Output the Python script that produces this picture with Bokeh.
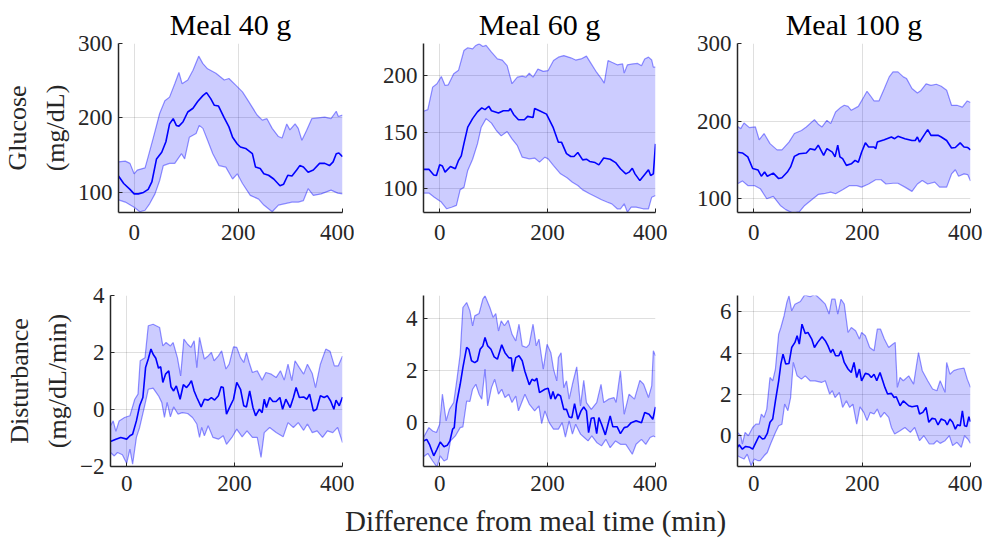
from bokeh.plotting import figure
from bokeh.layouts import row, column
from bokeh.models import Range1d, FixedTicker, Label
from bokeh.embed import file_html
from bokeh.resources import INLINE

# ---------------- data ----------------
meal_titles = ["Meal 40 g", "Meal 60 g", "Meal 100 g"]
row_labels = ["Glucose\n(mg/dL)", "Disturbance\n(mg/dL/min)"]
x_label = "Difference from meal time (min)"
x_ticks = [0, 200, 400]

# Glucose, meal 40 g
g40_mean_t = [-30,-20,-8,0,8,18,27,34,43,53,61,68,75,81,86,94,103,113,122,132,139,147,154,162,173,182,189,198,204,214,227,233,242,249,258,268,280,287,295,303,312,318,325,334,344,356,366,375,382,388,393,400]
g40_mean = [122,112,104,98,98,100,104,114,145,154,168,192,199,190,189,195,208,213,222,230,234,226,217,216,200,188,174,165,161,159,152,134,132,125,123,118,109,111,123,122,130,136,134,127,130,139,139,136,141,152,153,148]
g40_up_t = [-30,-17,-8,0,6,21,27,37,49,59,68,78,86,92,103,113,124,132,141,157,173,182,195,208,220,236,246,255,265,277,284,293,299,309,315,322,331,341,353,366,378,388,392,400]
g40_up = [141,142,139,125,130,133,148,174,206,223,228,246,261,246,251,264,283,273,266,260,251,253,244,235,222,204,197,199,186,175,173,192,184,192,186,170,183,199,200,201,199,209,202,204]
g40_lo_t = [-30,-17,0,11,21,30,40,49,56,68,78,91,97,106,119,125,132,141,151,163,176,189,198,208,223,239,249,265,277,290,303,315,325,334,344,359,378,391,400]
g40_lo = [90,87,80,74,76,85,98,116,136,139,139,152,145,174,179,190,186,170,152,136,134,118,125,112,96,91,83,74,83,85,87,87,89,105,96,98,103,99,98]

# Glucose, meal 60 g
g60_mean_t = [-30,-20,-11,-6,0,5,10,20,29,35,40,45,52,61,70,78,84,91,96,109,118,128,131,137,146,157,163,173,176,185,198,210,220,226,235,243,249,256,265,272,278,288,295,304,316,326,335,345,351,357,362,371,380,387,391,396,400]
g60_mean = [117,117,112,111.5,121,120,114.5,119.5,117.5,125,129,140,154.5,162,168,171.6,170,173,169,167,169,169,171,165.7,161,161,164,163,171,169,166,154.5,141,141,131,128.4,128.4,132,125.4,126,124,123,121,127,126,123,117.5,113,114.5,118,113,107,112.4,116.6,111.5,113,139.6]
g60_up_t = [-30,-22,-13,-5,3,10,16,26,35,45,52,61,67,73,80,86,96,107,116,125,134,144,153,160,166,173,182,192,201,211,220,230,243,252,262,272,281,291,300,305,312,319,329,339,342,348,358,367,374,380,387,393,396,400]
g60_up = [168.6,170,190,193,199.4,191.4,192,201.8,205,222.5,224.9,224,227,228.4,226,227,221,215,214,209,193,198.8,199.7,198.8,202.4,198.8,206,204,204.7,213.6,216.6,218,216,214,215,217.5,210.6,203,197.3,193.5,213.6,212,209.8,210.6,202.4,209.8,210.6,211,209,215,216.6,214,207.7,207.7]
g60_lo_t = [-30,-20,-10,3,13,22,31,38,45,52,61,70,77,86,96,105,114,125,134,144,153,166,176,185,195,201,211,224,236,246,256,265,278,291,300,310,319,329,335,342,348,355,364,377,387,393,400]
g60_lo = [95.9,96,92.3,88,82,83.4,85,99,101,116,126,139.6,154.4,162,158,151.5,146.7,150.6,144,138,127.8,126.3,127,123.4,127.8,126.3,120.4,113,109.5,105.6,102.7,98.8,95.3,92.3,90,88,86.4,82,82,86.4,79,83.4,83.4,82,82,92.3,93.8]

# Glucose, meal 100 g
g100_mean_t = [-30,-21,-11,-2,8,14,20,25,36,46,52,62,68,75,84,97,104,113,119,129,135,145,150,155,159,164,171,180,187,193,199,206,212,222,225,228,241,254,260,266,279,292,298,302,306,314,321,327,340,346,356,365,372,381,388,395,400]
g100_mean = [160,159,154,139,137,129,134.4,129,133,126,127,134.4,141,154.6,158,159,164.5,163,169,156,164.5,160,154,169,154,151.6,143,145,149.5,147,160,172,166.7,166.7,164.5,173,176,179.6,177.4,180.4,177.4,175,175,179.6,173,181.7,189,181.7,181.7,179.6,175,165.4,166,172,166.7,166,163]
g100_up_t = [-30,-24,-18,-8,3,10,19,30,43,52,65,75,88,97,112,119,126,135,142,151,161,167,174,180,193,203,209,215,222,231,241,250,257,266,276,282,292,302,308,318,327,337,346,356,365,375,385,394,400]
g100_up = [193.3,190.3,197.6,191.6,192.5,176,184,171,163,163,173,184,188,192.5,202,196,192.5,201,196.8,211.8,218,220.4,219,214,219,231,238.5,233,226,226,242,257,263.4,263.4,257,254.8,242,236.3,239,248,246,247.5,245,239.8,220.4,220.4,218,226,224]
g100_lo_t = [-30,-21,-11,1,12,24,36,49,59,72,84,94,107,119,129,142,151,164,177,190,199,212,225,235,244,257,266,279,292,302,311,321,334,343,356,365,372,378,388,395,400]
g100_lo = [119.4,123,117,117,113,100,103,91.4,86,81.5,83,91.4,98.7,105.6,106.5,108.6,106.5,111.6,117,117,115,119,124.5,124.5,119,120,120,115,109.5,119,123.6,119,121.5,115,115,132,137.4,129,132,131,123]

# Disturbance, meal 40 g
d40_mean_t = [-30,-20,-11,0,6,11,18,24,30,35,40,45,49,54,59,63,67,72,78,82,87,92,99,105,111,116,120,125,130,138,144,151,157,163,170,175,179,185,192,198,204,211,217,222,228,234,239,246,251,255,259,265,271,277,284,289,295,303,309,314,320,328,334,339,346,352,359,366,372,378,384,388,394,400]
d40_mean = [-1.12,-1.04,-0.98,-1.04,-0.92,-0.87,-0.40,0.13,0.42,1.47,1.77,2.12,1.94,1.80,1.45,1.50,0.95,1.24,1.36,0.80,0.65,0.83,0.36,0.87,0.77,0.89,1.01,0.65,0.42,0.09,0.36,0.33,0.42,0.33,0.48,0.80,0.77,-0.16,0.13,0.36,0.95,0.71,0.13,0.09,0.65,0.07,-0.22,0.01,-0.11,0.36,0.07,0.42,0.28,0.28,0.42,0.01,0.36,0.07,0.42,0.77,0.42,0.44,0.36,0.54,-0.05,0.01,0.48,0.42,0.48,0.30,0.01,0.33,0.13,0.44]
d40_up_t = [-30,-25,-20,-14,-4,6,15,21,25,34,40,49,61,67,73,81,86,94,100,106,113,119,125,130,135,139,144,151,157,162,170,176,184,190,198,204,211,217,222,227,233,242,251,258,268,277,285,292,299,306,312,320,328,335,344,350,359,369,377,385,392,400]
d40_up = [-0.57,-0.40,-0.77,-0.40,-0.28,-0.22,0.36,0.54,1.71,1.82,2.94,2.99,2.88,2.23,2.35,2.23,2.35,1.82,1.18,2.47,2.29,2.18,2.41,1.47,2.53,2.18,1.77,1.88,2.00,1.71,1.88,2.06,1.42,1.59,2.20,2.18,1.82,1.65,2.00,1.65,1.30,1.36,1.03,1.30,1.24,1.12,1.36,1.03,1.59,1.01,1.71,1.47,1.24,1.59,1.26,0.77,1.59,2.12,2.04,1.53,1.53,1.88]
d40_lo_t = [-30,-23,-17,-8,0,6,11,18,24,34,40,49,59,65,70,75,81,87,95,103,113,122,130,135,139,144,151,160,170,179,185,195,204,214,223,233,242,249,255,265,277,290,299,309,318,328,335,344,353,363,372,382,391,400]
d40_lo = [-1.51,-1.63,-1.51,-1.59,-1.89,-1.39,-1.92,-0.98,-0.63,0.19,0.71,0.75,0.48,0.25,-0.28,0.25,-0.26,0.09,-0.16,-0.11,-0.14,-0.28,-0.51,-0.98,-0.63,-0.92,-0.57,-0.98,-1.04,-0.92,-1.22,-0.98,-0.69,-0.96,-0.75,-0.98,-0.98,-1.68,-0.81,-0.63,-0.81,-0.96,-0.46,-0.63,-0.46,-0.73,-0.51,-0.81,-0.75,-0.98,-0.75,-0.81,-0.63,-1.16]

# Disturbance, meal 60 g
d60_mean_t = [-30,-24,-19,-11,-5,1,8,14,19,24,27,31,38,43,50,54,59,65,70,75,80,84,89,95,101,107,115,121,128,133,135,141,147,153,158,166,171,176,180,185,195,201,206,210,214,219,224,230,235,240,245,250,256,262,267,272,276,281,286,291,295,300,307,312,316,321,329,335,342,348,355,364,374,380,388,395,400]
d60_mean = [-0.69,-0.63,-0.82,-1.26,-1.01,-0.73,-0.91,-0.86,-0.69,-0.24,-0.18,0.72,1.48,2.12,2.89,2.82,2.38,2.31,2.38,2.82,2.95,3.27,2.95,2.82,2.53,2.44,2.99,2.69,2.50,2.48,1.97,2.50,2.57,2.38,1.97,1.46,1.67,1.61,1.71,1.16,1.29,1.33,0.91,1.20,0.91,1.10,1.03,0.52,0.52,0.23,0.20,0.74,0.14,0.46,0.61,0.46,-0.37,0.18,0.20,-0.41,0.20,-0.05,-0.46,-0.05,0.27,-0.15,-0.15,-0.41,-0.18,-0.15,0.01,0.08,0.01,0.40,0.33,0.14,0.61]
d60_up_t = [-30,-20,-13,-6,0,5,12,18,26,32,38,43,50,56,61,65,73,80,84,93,99,104,109,114,120,127,134,141,147,153,161,166,173,179,184,192,199,206,211,217,220,225,230,235,240,246,254,261,267,272,281,291,299,304,313,323,327,335,342,351,361,371,378,387,393,396,400]
d60_up = [-0.56,-0.18,-0.31,-0.37,-0.05,1.10,0.08,0.52,0.78,1.67,2.63,4.42,4.61,4.29,3.72,4.10,4.19,4.74,4.87,4.42,4.04,4.19,3.52,3.91,3.72,3.93,3.40,3.14,3.78,2.95,2.89,3.01,3.78,2.95,3.21,2.06,3.01,2.69,2.06,1.61,2.50,2.69,1.35,1.61,0.91,1.48,2.15,0.65,1.63,0.78,0.52,0.78,1.48,0.78,0.91,0.97,0.78,1.99,0.33,1.10,0.91,1.63,1.48,0.97,1.42,2.76,2.57]
d60_lo_t = [-30,-22,-13,-5,1,8,14,20,29,38,43,50,56,61,67,73,78,84,89,96,102,109,115,121,128,134,141,146,152,158,166,176,184,189,195,203,211,220,227,233,240,246,252,261,268,275,282,291,300,308,316,326,335,345,357,364,374,382,390,396,400]
d60_lo = [-1.30,-1.17,-1.46,-1.69,-1.26,-1.46,-1.39,-0.69,-0.50,-0.18,-0.15,0.84,0.82,1.29,1.48,1.10,0.91,2.06,0.65,1.35,1.67,1.10,1.29,0.97,1.10,0.78,1.03,0.46,0.78,1.10,0.72,0.46,0.65,-0.03,0.46,0.01,-0.24,-0.24,0.01,-0.54,0.08,-0.43,-0.05,-0.43,-0.56,-0.69,-0.50,-0.75,-0.88,-0.63,-0.95,-0.69,-0.82,-0.82,-1.20,-0.82,-0.63,-0.82,-0.56,-0.50,-0.54]

# Disturbance, meal 100 g
d100_mean_t = [-30,-27,-21,-15,-7,-2,4,10,16,20,25,30,35,40,46,50,54,59,65,70,76,80,84,89,95,100,107,112,118,126,132,137,142,146,151,157,161,167,174,180,185,190,195,199,206,212,217,222,227,233,238,242,247,254,259,263,270,276,286,292,302,306,312,318,323,329,335,340,346,353,357,362,367,372,376,381,385,389,393,397,400]
d100_mean = [-0.56,-0.44,-0.65,-0.52,-0.56,-0.65,-0.32,0.00,-0.16,-0.13,0.11,0.65,0.81,1.69,2.66,3.47,3.95,3.47,3.50,4.27,4.52,4.84,4.44,5.40,4.95,5.00,4.68,4.27,4.52,4.79,4.60,4.35,4.03,4.19,3.87,3.87,4.11,3.55,3.23,3.06,3.55,2.82,3.23,2.66,3.02,2.98,2.82,2.98,2.66,3.06,2.66,2.34,2.02,2.05,1.85,1.89,1.45,1.69,1.45,1.40,1.45,1.05,1.13,1.37,0.65,0.84,0.81,0.52,0.81,0.73,0.52,0.81,0.65,0.32,0.53,0.48,1.21,0.48,0.45,0.92,0.68]
d100_up_t = [-30,-24,-21,-16,-10,-2,4,10,14,19,24,30,35,40,46,50,56,61,65,70,76,86,94,104,113,123,132,139,144,150,155,161,167,174,180,188,195,199,206,214,222,228,234,241,249,257,261,265,270,276,286,295,304,311,321,330,338,344,353,356,362,369,378,388,394,400]
d100_up = [0.16,0.00,-0.40,0.16,0.00,0.40,0.56,0.56,1.05,0.89,1.29,2.82,2.66,3.23,4.92,5.24,5.81,6.45,6.77,6.05,6.37,6.50,6.82,6.73,6.85,6.61,6.37,5.89,6.61,6.61,5.89,6.61,6.37,5.00,5.24,5.08,4.68,5.00,4.84,4.27,4.11,5.16,5.16,4.68,4.27,4.44,4.52,2.34,2.82,2.66,2.90,2.50,4.03,3.15,2.66,2.26,2.18,2.66,2.10,3.55,2.98,3.15,3.23,3.27,2.74,2.34]
d100_lo_t = [-30,-24,-18,-12,-5,1,8,12,19,25,31,40,46,52,57,63,68,73,80,88,95,104,113,125,132,140,145,150,158,164,171,177,183,190,196,203,209,215,222,228,234,241,249,254,260,270,279,289,297,306,314,324,332,338,344,353,361,367,375,383,389,395,400]
d100_lo = [-0.97,-1.05,-1.13,-0.89,-1.45,-1.13,-1.21,-1.21,-0.97,-0.81,-0.40,0.16,0.48,0.56,1.53,1.21,1.85,3.55,2.90,2.74,2.90,2.66,2.66,2.58,2.66,2.02,2.18,1.85,2.10,1.37,1.69,1.37,1.53,0.56,1.40,1.13,0.73,1.13,1.05,1.29,0.89,1.13,0.89,0.40,0.08,0.24,0.40,0.16,0.40,-0.24,0.00,-0.40,-0.40,-0.24,-0.37,-0.24,0.00,-0.48,-0.32,-0.56,0.00,-0.16,-0.37]

# axis limits and ticks per panel
y_limits = [[(73, 300), (78.7, 228.7), (82.3, 300)],
            [(-2, 4), (-1.67, 4.88), (-1.49, 6.79)]]
y_ticks = [[[100, 200, 300], [100, 150, 200], [100, 200, 300]],
           [[-2, 0, 2, 4], [0, 2, 4], [0, 2, 4, 6]]]
x_limits = (-30, 400)

panels = [
    [(g40_mean_t, g40_mean, g40_up_t, g40_up, g40_lo_t, g40_lo),
     (g60_mean_t, g60_mean, g60_up_t, g60_up, g60_lo_t, g60_lo),
     (g100_mean_t, g100_mean, g100_up_t, g100_up, g100_lo_t, g100_lo)],
    [(d40_mean_t, d40_mean, d40_up_t, d40_up, d40_lo_t, d40_lo),
     (d60_mean_t, d60_mean, d60_up_t, d60_up, d60_lo_t, d60_lo),
     (d100_mean_t, d100_mean, d100_up_t, d100_up, d100_lo_t, d100_lo)],
]

# ---------------- styling / layout ----------------
FONT = "Liberation Serif"
AX = "#262626"
BLUE = "#0000ff"
RPAD = 20          # right padding bokeh ends up using (min 12 + label overhang)
# (left border, frame width) per column
col_borders = [(110, 224), (69, 224), (70, 225)]
# (top border, frame, bottom border, x tick-label standoff) per row
row_borders = [(43, 169, 42, 12), (41, 171, 37, 9)]
strip_h = 35

figs = []
for r in range(2):
    row_figs = []
    for c in range(3):
        bl, fw = col_borders[c]
        bt, fh, bb, xso = row_borders[r]
        p = figure(width=bl + fw + RPAD, height=bt + fh + bb,
                   x_range=Range1d(*x_limits), y_range=Range1d(*y_limits[r][c]),
                   output_backend="svg", toolbar_location=None,
                   min_border_left=bl, min_border_right=12,
                   min_border_top=bt, min_border_bottom=bb)
        p.outline_line_color = None
        p.background_fill_color = "white"
        p.border_fill_color = "white"
        if r == 0:
            p.title.text = meal_titles[c]
            p.title.align = "center"
            p.title.text_font = FONT
            p.title.text_font_size = "30px"
            p.title.text_font_style = "normal"
            p.title.text_color = "#000000"
            p.title.standoff = 6
        mt, mv, ut, uv, lt, lv = panels[r][c]
        p.patch(x=list(ut) + list(lt)[::-1], y=list(uv) + list(lv)[::-1],
                fill_color=BLUE, fill_alpha=0.2, line_alpha=0)
        p.line(ut, uv, line_color=BLUE, line_alpha=0.42, line_width=1.2)
        p.line(lt, lv, line_color=BLUE, line_alpha=0.42, line_width=1.2)
        p.line(mt, mv, line_color=BLUE, line_width=1.6)

        p.xaxis.ticker = FixedTicker(ticks=x_ticks)
        p.yaxis.ticker = FixedTicker(ticks=y_ticks[r][c])
        for ax in (p.xaxis[0], p.yaxis[0]):
            ax.axis_line_color = AX
            ax.axis_line_width = 1.5
            ax.major_tick_line_color = AX
            ax.major_tick_in = 4
            ax.major_tick_out = 0
            ax.minor_tick_line_color = None
            ax.major_label_text_font = FONT
            ax.major_label_text_font_size = "23px"
            ax.major_label_text_color = AX
            ax.axis_label_text_font = FONT
            ax.axis_label_text_font_size = "26px"
            ax.axis_label_text_font_style = "normal"
            ax.axis_label_text_color = AX
        p.xaxis.major_label_standoff = xso
        p.yaxis.major_label_standoff = 6
        if c == 0:
            p.yaxis.axis_label = row_labels[r]
            p.yaxis.axis_label_standoff = 5
            p.yaxis.axis_label_text_line_height = 1.3
        for g in (p.xgrid[0], p.ygrid[0]):
            g.grid_line_color = AX
            g.grid_line_alpha = 0.15
            g.grid_line_width = 1
        row_figs.append(p)
    figs.append(row(*row_figs))

# strip holding the shared x-axis label, centred under the middle column
total_w = sum(bl + fw + RPAD for bl, fw in col_borders)
label_x = (col_borders[0][0] + col_borders[0][1] + RPAD) + col_borders[1][0] + col_borders[1][1] / 2
strip = figure(width=total_w, height=strip_h, x_range=Range1d(0, total_w),
               y_range=Range1d(0, strip_h), x_axis_type=None, y_axis_type=None,
               output_backend="svg", toolbar_location=None, min_border=0)
strip.outline_line_color = None
strip.xgrid.visible = False
strip.ygrid.visible = False
strip.add_layout(Label(x=label_x, y=17.5, text=x_label, text_align="center",
                       text_baseline="middle", text_font=FONT,
                       text_font_size="29px", text_color=AX))
figs.append(strip)

layout = column(*figs)
open("out.html", "w").write(file_html(layout, INLINE))
